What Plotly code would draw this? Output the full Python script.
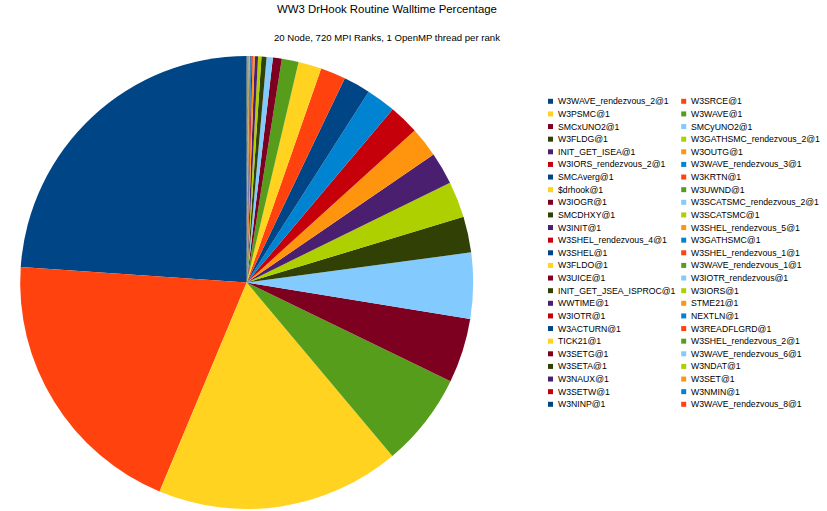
import plotly.graph_objects as go

# ---- data -------------------------------------------------------------
routines = [
    "W3WAVE_rendezvous_2@1", "W3SRCE@1", "W3PSMC@1", "W3WAVE@1",
    "SMCxUNO2@1", "SMCyUNO2@1", "W3FLDG@1", "W3GATHSMC_rendezvous_2@1",
    "INIT_GET_ISEA@1", "W3OUTG@1", "W3IORS_rendezvous_2@1", "W3WAVE_rendezvous_3@1",
    "SMCAverg@1", "W3KRTN@1", "$drhook@1", "W3UWND@1",
    "W3IOGR@1", "W3SCATSMC_rendezvous_2@1", "SMCDHXY@1", "W3SCATSMC@1",
    "W3INIT@1", "W3SHEL_rendezvous_5@1", "W3SHEL_rendezvous_4@1", "W3GATHSMC@1",
    "W3SHEL@1", "W3SHEL_rendezvous_1@1", "W3FLDO@1", "W3WAVE_rendezvous_1@1",
    "W3UICE@1", "W3IOTR_rendezvous@1", "INIT_GET_JSEA_ISPROC@1", "W3IORS@1",
    "WWTIME@1", "STME21@1", "W3IOTR@1", "NEXTLN@1",
    "W3ACTURN@1", "W3READFLGRD@1", "TICK21@1", "W3SHEL_rendezvous_2@1",
    "W3SETG@1", "W3WAVE_rendezvous_6@1", "W3SETA@1", "W3NDAT@1",
    "W3NAUX@1", "W3SET@1", "W3SETW@1", "W3NMIN@1",
    "W3NINP@1", "W3WAVE_rendezvous_8@1",
]

walltime_pct = [
    23.9, 19.8, 17.4, 6.7,
    4.6, 4.7, 2.56, 2.58,
    2.3, 2.14, 2.14, 2.1,
    1.92, 1.8, 1.65, 1.2,
    0.63, 0.45, 0.36, 0.24,
    0.23, 0.15, 0.08, 0.06,
    0.05, 0.04, 0.03, 0.025,
    0.02, 0.018, 0.015, 0.012,
    0.01, 0.009, 0.008, 0.007,
    0.006, 0.005, 0.004, 0.004,
    0.003, 0.003, 0.002, 0.002,
    0.001, 0.001, 0.001, 0.001,
    0.001, 0.001,
]

title_text = "WW3 DrHook Routine Walltime Percentage"
subtitle_text = "20 Node, 720 MPI Ranks, 1 OpenMP thread per rank"

# ---- style ------------------------------------------------------------
palette = ["#004586", "#ff420e", "#ffd320", "#579d1c", "#7e0021", "#83caff",
           "#314004", "#aecf00", "#4b1f6f", "#ff950e", "#c5000b", "#0084d1"]
colors = [palette[i % len(palette)] for i in range(len(routines))]

W, H = 827, 511
FONT = "Liberation Sans, Arial, sans-serif"

# pie geometry (pixels)
pie_left, pie_right, pie_top, pie_bottom = 20.2, 473.2, 56.0, 509.0

# plotly places the first slice clockwise of the start angle when the
# direction is counterclockwise; shift so that it starts at 12 o'clock
first_slice_deg = 360.0 * walltime_pct[0] / sum(walltime_pct)

fig = go.Figure()
fig.add_trace(go.Pie(
    labels=routines,
    values=walltime_pct,
    sort=False,
    direction="counterclockwise",
    rotation=-first_slice_deg,
    textinfo="none",
    marker=dict(colors=colors, line=dict(width=0)),
    showlegend=False,
    domain=dict(x=[pie_left / W, pie_right / W],
                y=[1 - pie_bottom / H, 1 - pie_top / H]),
    hovertemplate="%{label}: %{value}%<extra></extra>",
))

# ---- manual two-column legend (LibreOffice style) ----------------------
sq_cx = [550.5, 683.7]
txt_x = [556.0, 688.8]
row0_y = 101.3
row_dy = 12.625
sq = 5.0
shapes = []
annotations = []
for i, name in enumerate(routines):
    col, row = i % 2, i // 2
    cy = row0_y + row * row_dy
    shapes.append(dict(
        type="rect", xref="paper", yref="paper",
        x0=(sq_cx[col] - sq / 2) / W, x1=(sq_cx[col] + sq / 2) / W,
        y0=1 - (cy + sq / 2) / H, y1=1 - (cy - sq / 2) / H,
        fillcolor=colors[i], line=dict(width=0),
    ))
    annotations.append(dict(
        text=name, xref="paper", yref="paper",
        x=txt_x[col] / W, y=1 - cy / H,
        xanchor="left", yanchor="middle", showarrow=False,
        font=dict(family=FONT, size=8.7, color="#000000"),
    ))

annotations.append(dict(
    text=subtitle_text, xref="paper", yref="paper",
    x=387 / W, y=1 - 37.3 / H, xanchor="center", yanchor="middle",
    showarrow=False, font=dict(family=FONT, size=9.6, color="#000000"),
))

fig.update_layout(
    width=W, height=H,
    margin=dict(l=0, r=0, t=0, b=0),
    paper_bgcolor="white", plot_bgcolor="white",
    title=dict(text=title_text, x=387 / W, xanchor="center",
               y=1 - 9.5 / H, yanchor="middle", yref="container",
               font=dict(family=FONT, size=11.4, color="#000000")),
    shapes=shapes,
    annotations=annotations,
    showlegend=False,
)

fig.write_html("out.html")
